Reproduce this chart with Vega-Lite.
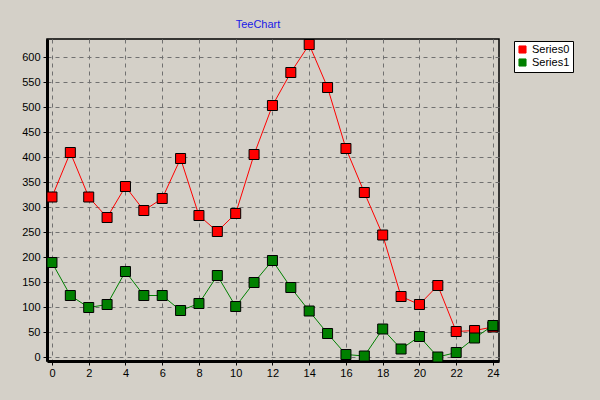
{
  "$schema": "https://vega.github.io/schema/vega-lite/v6.json",
  "autosize": "none",
  "width": 452,
  "height": 322,
  "padding": {"left": 47, "top": 39, "right": 101, "bottom": 39},
  "background": "#D4D0C8",
  "config": {
    "font": "Liberation Sans",
    "view": {"stroke": "#000000", "strokeWidth": 1.5, "fill": null},
    "axis": {
      "domainColor": "#000000",
      "domainWidth": 3,
      "tickColor": "#000000",
      "labelColor": "#000000",
      "labelFont": "Liberation Sans",
      "labelFontSize": 11,
      "gridColor": "#707070",
      "gridDash": [4, 4],
      "gridWidth": 1,
      "gridOpacity": 1,
      "title": null
    }
  },
  "title": {
    "text": "TeeChart",
    "color": "#1A1AE6",
    "font": "Liberation Sans",
    "fontSize": 11,
    "fontWeight": "normal",
    "offset": 8,
    "dx": -15
  },
  "data": {
    "values": [
      {"x": 0, "value": 320, "series": "Series0"},
      {"x": 1, "value": 409, "series": "Series0"},
      {"x": 2, "value": 320, "series": "Series0"},
      {"x": 3, "value": 279, "series": "Series0"},
      {"x": 4, "value": 341, "series": "Series0"},
      {"x": 5, "value": 293, "series": "Series0"},
      {"x": 6, "value": 317, "series": "Series0"},
      {"x": 7, "value": 397, "series": "Series0"},
      {"x": 8, "value": 283, "series": "Series0"},
      {"x": 9, "value": 251, "series": "Series0"},
      {"x": 10, "value": 287, "series": "Series0"},
      {"x": 11, "value": 405, "series": "Series0"},
      {"x": 12, "value": 503, "series": "Series0"},
      {"x": 13, "value": 569, "series": "Series0"},
      {"x": 14, "value": 625, "series": "Series0"},
      {"x": 15, "value": 539, "series": "Series0"},
      {"x": 16, "value": 417, "series": "Series0"},
      {"x": 17, "value": 329, "series": "Series0"},
      {"x": 18, "value": 244, "series": "Series0"},
      {"x": 19, "value": 121, "series": "Series0"},
      {"x": 20, "value": 105, "series": "Series0"},
      {"x": 21, "value": 143, "series": "Series0"},
      {"x": 22, "value": 51, "series": "Series0"},
      {"x": 23, "value": 53, "series": "Series0"},
      {"x": 24, "value": 60, "series": "Series0"},
      {"x": 0, "value": 189, "series": "Series1"},
      {"x": 1, "value": 123, "series": "Series1"},
      {"x": 2, "value": 99, "series": "Series1"},
      {"x": 3, "value": 105, "series": "Series1"},
      {"x": 4, "value": 171, "series": "Series1"},
      {"x": 5, "value": 123, "series": "Series1"},
      {"x": 6, "value": 123, "series": "Series1"},
      {"x": 7, "value": 93, "series": "Series1"},
      {"x": 8, "value": 107, "series": "Series1"},
      {"x": 9, "value": 163, "series": "Series1"},
      {"x": 10, "value": 101, "series": "Series1"},
      {"x": 11, "value": 149, "series": "Series1"},
      {"x": 12, "value": 193, "series": "Series1"},
      {"x": 13, "value": 139, "series": "Series1"},
      {"x": 14, "value": 92, "series": "Series1"},
      {"x": 15, "value": 47, "series": "Series1"},
      {"x": 16, "value": 5, "series": "Series1"},
      {"x": 17, "value": 2, "series": "Series1"},
      {"x": 18, "value": 56, "series": "Series1"},
      {"x": 19, "value": 16, "series": "Series1"},
      {"x": 20, "value": 41, "series": "Series1"},
      {"x": 21, "value": 0, "series": "Series1"},
      {"x": 22, "value": 9, "series": "Series1"},
      {"x": 23, "value": 38, "series": "Series1"},
      {"x": 24, "value": 63, "series": "Series1"}
    ]
  },
  "encoding": {
    "x": {
      "field": "x",
      "type": "quantitative",
      "scale": {"domain": [-0.27, 24.33], "nice": false, "zero": false},
      "axis": {
        "values": [0, 2, 4, 6, 8, 10, 12, 14, 16, 18, 20, 22, 24],
        "tickSize": 4,
        "labelPadding": 2
      }
    },
    "y": {
      "field": "value",
      "type": "quantitative",
      "scale": {"domain": [-8, 636], "nice": false, "zero": false},
      "axis": {
        "values": [0, 50, 100, 150, 200, 250, 300, 350, 400, 450, 500, 550, 600],
        "tickSize": 4,
        "labelPadding": 3
      }
    },
    "color": {
      "field": "series",
      "type": "nominal",
      "scale": {"domain": ["Series0", "Series1"], "range": ["#FF0000", "#008000"]},
      "legend": {
        "title": null,
        "orient": "none",
        "legendX": 467,
        "legendY": 2,
        "fillColor": "#FFFFFF",
        "strokeColor": "#000000",
        "padding": 3,
        "labelFont": "Liberation Sans",
        "labelFontSize": 11,
        "labelColor": "#000000",
        "symbolType": "square",
        "symbolSize": 50,
        "symbolStrokeColor": "#000000",
        "symbolStrokeWidth": 1,
        "symbolOpacity": 1,
        "rowPadding": 0
      }
    }
  },
  "layer": [
    {"mark": {"type": "line", "strokeWidth": 1}},
    {
      "mark": {
        "type": "point",
        "shape": "square",
        "filled": true,
        "size": 100,
        "opacity": 1,
        "stroke": "#000000",
        "strokeWidth": 1
      }
    }
  ]
}
